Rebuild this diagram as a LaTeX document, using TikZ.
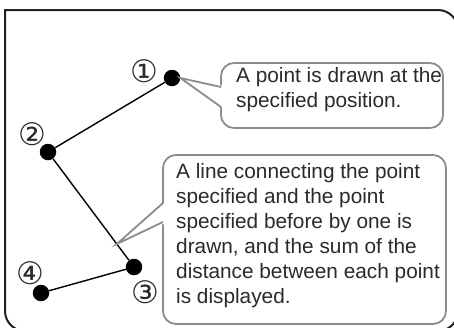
\documentclass[tikz,border=0pt]{standalone}
\usepackage{fontspec}
\setmainfont{Liberation Sans}
\newfontfamily\symfont{DejaVu Sans}
\usetikzlibrary{calc}
\definecolor{calloutgray}{HTML}{8C8C8C}
\definecolor{textgray}{HTML}{2A2A2A}
\definecolor{framecol}{HTML}{222222}
\begin{document}
\begin{tikzpicture}[x=1pt,y=-1pt,
  dot/.style={circle,fill=black,inner sep=0,minimum size=16.5pt},
  num/.style={font=\symfont\fontsize{31}{31}\selectfont,inner sep=0,text=textgray},
  seg/.style={black,line width=1.4pt},
  bubble/.style={draw=calloutgray,line width=1.8pt,rounded corners=13pt,fill=white,inner sep=0},
  ptr/.style={draw=calloutgray,line width=1.8pt,line join=miter},
  txt/.style={font=\fontsize{20.8}{25}\selectfont,align=left,inner sep=0,text=textgray},
  outer/.style={draw=framecol,line width=2pt,rounded corners=20pt,line cap=rect},
]
\useasboundingbox (0,0) rectangle (454,327);
\begin{scope}
\clip (0,0) rectangle (454,327);
\draw[outer] (5,10) -- (458,10) -- (458,331) -- (5,331) -- (5,10);
\end{scope}

% points
\node[dot] (p1) at (172,78) {};
\node[dot] (p2) at (48,152) {};
\node[dot] (p3) at (134,267) {};
\node[dot] (p4) at (41,293) {};
\draw[seg] (p1) -- (p2) -- (p3) -- (p4);

% labels
\node[num] (n1) at (144,71) {①};
\node[num] (n2) at (32,134) {②};
\node[num] (n3) at (145,292) {③};
\node[num] (n4) at (30,273) {④};

% callout 1
\node[bubble,minimum width=222pt,minimum height=65pt] (b1) at (332,95.5) {};
\coordinate (t1) at (p1.east);
\coordinate (b1u) at (221,87);
\coordinate (b1d) at (221,107);
\fill[white] (t1) -- ($(b1u)+(2.5,-1)$) -- ($(b1d)+(2.5,1)$) -- cycle;
\draw[ptr] (b1u) -- (t1) -- (b1d);
\node[txt,anchor=north west] (c1) at (236,67.5) {A point is drawn at the\\specified position.};

% callout 2
\node[bubble,minimum width=283pt,minimum height=169pt] (b2) at (304.5,239.5) {};
\coordinate (t2) at ($(p2)!0.8!(p3)$);
\coordinate (b2u) at (163,203);
\coordinate (b2d) at (163,222);
\fill[white] (t2) -- ($(b2u)+(2.5,-1)$) -- ($(b2d)+(2.5,1)$) -- cycle;
\draw[ptr] (b2u) -- (t2) -- (b2d);
\node[txt,anchor=north west] (c2) at (176,163.5) {A line connecting the point\\specified and the point\\specified before by one is\\drawn, and the sum of the\\distance between each point\\is displayed.};
\end{tikzpicture}
\end{document}
